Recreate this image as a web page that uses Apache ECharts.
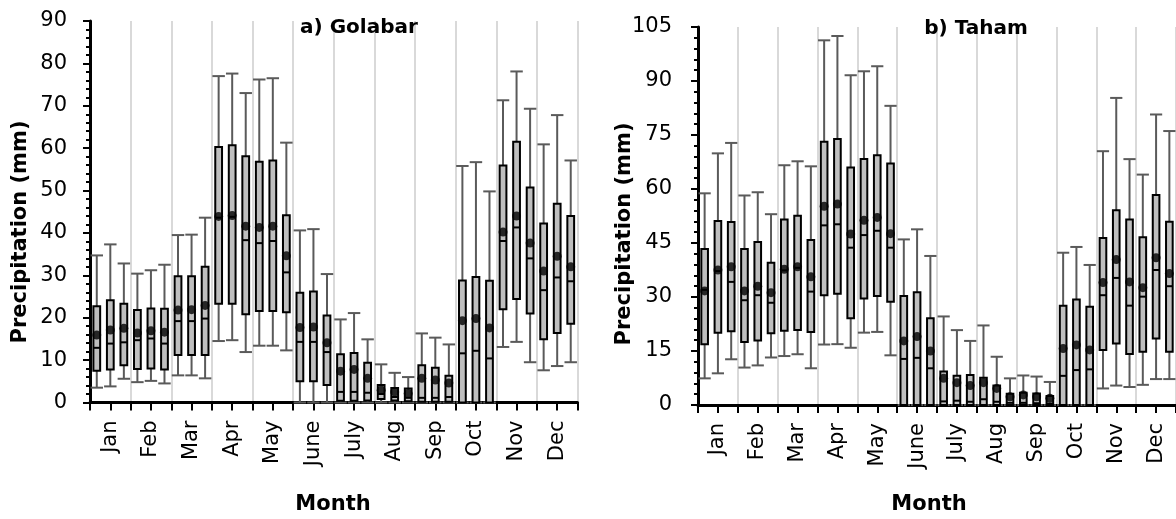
<!DOCTYPE html>
<html>
<head>
<meta charset="utf-8">
<script src="https://cdn.jsdelivr.net/npm/echarts@6/dist/echarts.min.js"></script>
<style>
html,body{margin:0;padding:0;background:#fff;}
#c{width:1176px;height:519px;}
</style>
</head>
<body>
<div id="c"></div>
<script>
// ---- Data ----
var months = ['Jan','Feb','Mar','Apr','May','June','July','Aug','Sep','Oct','Nov','Dec'];
var yTicksA = {min: 0, max: 90, interval: 10};
var yTicksB = {min: 0, max: 105, interval: 15};

// a) Golabar (3 boxes per month)
var aMax  = [34.7,37.3,32.8, 30.4,31.2,32.5, 39.5,39.6,43.6, 77.0,77.6,73.0, 76.2,76.5,61.3, 40.6,40.9,30.3, 19.6,21.1,14.9, 9.0,7.0,6.0, 16.3,15.3,13.7, 55.8,56.7,49.8, 71.3,78.1,69.3, 60.9,67.8,57.1];
var aQ3   = [22.7,24.1,23.3, 21.8,22.2,22.1, 29.8,29.8,32.0, 60.3,60.7,58.1, 56.8,57.1,44.2, 25.9,26.2,20.5, 11.4,11.7,9.4, 4.1,3.4,3.3, 8.8,8.2,6.3, 28.8,29.6,28.7, 55.9,61.5,50.7, 42.2,46.9,44.0];
var aMed  = [12.9,13.9,14.2, 14.7,15.1,13.9, 19.2,19.2,19.8, 43.6,43.8,38.3, 37.6,38.1,30.7, 14.3,14.3,11.9, 2.5,2.5,2.3, 2.0,1.3,1.1, 1.1,1.1,1.3, 11.6,12.2,10.4, 38.1,41.3,34.0, 26.5,29.5,28.6];
var aQ1   = [7.5,7.8,8.8, 7.9,8.0,7.8, 11.2,11.2,11.2, 23.3,23.3,20.8, 21.6,21.6,21.3, 5.0,5.0,4.1, 0.4,0.4,0.5, 0.8,0.5,0.3, 0.2,0.2,0.2, 0,0,0, 22.0,24.4,21.0, 14.9,16.4,18.6];
var aMin  = [3.5,3.8,5.6, 4.8,5.1,4.5, 6.4,6.4,5.7, 14.5,14.7,11.9, 13.4,13.4,12.3, 0,0,0, 0,0,0, 0,0,0, 0,0,0, 0,0,0, 13.1,14.3,9.5, 7.6,8.6,9.5];
var aMean = [15.9,17.1,17.5, 16.4,16.9,16.6, 21.8,21.9,22.9, 43.9,44.1,41.6, 41.3,41.6,34.6, 17.7,17.8,14.1, 7.4,7.8,5.7, 2.9,2.5,2.1, 5.7,5.3,4.6, 19.3,19.8,17.6, 40.2,44.0,37.6, 31.0,34.5,32.0];

// b) Taham
var bMax  = [58.8,69.9,72.8, 58.2,59.1,53.0, 66.6,67.7,66.3, 101.3,102.5,91.6, 92.7,94.1,83.1, 46.0,48.8,41.4, 24.6,20.8,17.8, 22.1,13.4,7.4, 8.2,7.9,6.4, 42.3,43.9,38.9, 70.5,85.3,68.3, 64.0,80.7,76.1];
var bQ3   = [43.3,51.1,50.8, 43.3,45.3,39.5, 51.5,52.6,45.8, 73.1,73.9,66.0, 68.3,69.4,67.1, 30.3,31.3,24.1, 9.3,8.1,8.3, 7.6,5.4,3.1, 3.4,3.2,2.5, 27.6,29.3,27.3, 46.4,54.1,51.5, 46.6,58.3,50.9];
var bMed  = [32.0,37.2,34.2, 29.1,30.5,28.4, 37.4,38.1,31.5, 49.9,50.2,43.7, 47.2,48.4,43.7, 12.8,13.1,10.2, 1.0,1.2,0.9, 1.6,0.9,0.6, 0.6,0.5,0.4, 8.1,9.7,9.9, 30.5,35.3,27.6, 30.1,37.5,33.0];
var bQ1   = [16.9,20.1,20.5, 17.5,17.9,19.9, 20.6,20.8,20.3, 30.5,30.9,24.1, 29.6,30.3,28.7, 0,0,0, 0,0,0, 0,0,0, 0,0,0, 0,0,0, 15.3,17.1,14.2, 14.8,18.5,14.8];
var bMin  = [7.4,8.8,12.7, 10.4,11.0,13.2, 13.6,14.1,10.2, 16.8,16.9,15.9, 20.1,20.3,13.8, 0,0,0, 0,0,0, 0,0,0, 0,0,0, 0,0,0, 4.6,5.4,5.0, 5.6,7.2,7.2];
var bMean = [31.7,37.5,38.4, 31.7,33.0,31.2, 37.7,38.4,35.6, 55.2,55.8,47.5, 51.3,52.1,47.6, 17.8,19.0,15.0, 7.4,6.2,5.4, 6.2,4.6,2.3, 2.8,2.3,1.9, 15.7,16.7,15.3, 34.0,40.4,34.2, 32.6,40.9,36.5];

// ---- Build ----
var FONT = 'DejaVu Sans';
var nBox = months.length * 3;

function boxData(mn, q1, md, q3, mx) {
  return mn.map(function (v, i) { return [i + 0.5, v, q1[i], md[i], q3[i], mx[i]]; });
}
function meanData(m) {
  return m.map(function (v, i) { return [i + 0.5, v]; });
}

function renderBox(params, api) {
  var x = api.value(0);
  var lo = api.coord([x, api.value(1)]);
  var q1 = api.coord([x, api.value(2)]);
  var md = api.coord([x, api.value(3)]);
  var q3 = api.coord([x, api.value(4)]);
  var hi = api.coord([x, api.value(5)]);
  var slot = api.size([1, 0])[0];
  var bw = slot * 0.5, cw = slot * 0.92;
  var cx = lo[0];
  var ws = {stroke: '#5a5a5a', lineWidth: 2};
  return {
    type: 'group',
    children: [
      {type: 'line', shape: {x1: cx, y1: hi[1], x2: cx, y2: lo[1]}, style: ws},
      {type: 'line', shape: {x1: cx - cw / 2, y1: hi[1], x2: cx + cw / 2, y2: hi[1]}, style: ws},
      {type: 'line', shape: {x1: cx - cw / 2, y1: lo[1], x2: cx + cw / 2, y2: lo[1]}, style: ws},
      {type: 'rect', shape: {x: cx - bw / 2, y: q3[1], width: bw, height: q1[1] - q3[1]},
        style: {fill: '#bfbfbf', stroke: '#000', lineWidth: 2}},
      {type: 'line', shape: {x1: cx - bw / 2, y1: md[1], x2: cx + bw / 2, y2: md[1]},
        style: {stroke: '#000', lineWidth: 2}}
    ]
  };
}

function mainX(gridIndex) {
  return {
    type: 'value', gridIndex: gridIndex, min: 0, max: nBox, interval: 1.5,
    axisLine: {show: true, onZero: false, lineStyle: {color: '#000', width: 3}},
    axisTick: {show: true, length: 8, lineStyle: {color: '#000', width: 2}},
    splitLine: {show: false},
    axisLabel: {
      rotate: 90, margin: 18, color: '#000', fontSize: 21, fontFamily: FONT,
      formatter: function (v) {
        var k = Math.round(v / 1.5);
        return (k % 2 === 1) ? months[(k - 1) / 2] : '';
      }
    }
  };
}
function splitX(gridIndex) {
  return {
    type: 'value', gridIndex: gridIndex, min: 0, max: nBox, interval: 3,
    position: 'bottom',
    axisLine: {show: false}, axisTick: {show: false}, axisLabel: {show: false},
    splitLine: {show: true, lineStyle: {color: '#d9d9d9', width: 2}}
  };
}
function yAx(gridIndex, t, margin) {
  return {
    type: 'value', gridIndex: gridIndex, min: t.min, max: t.max, interval: t.interval,
    axisLine: {show: true, lineStyle: {color: '#000', width: 3}},
    axisTick: {show: true, length: 7, lineStyle: {color: '#000', width: 2}},
    minorTick: {show: true, splitNumber: 5, length: 4, lineStyle: {color: '#000', width: 2}},
    splitLine: {show: false},
    axisLabel: {margin: margin, color: '#000', fontSize: 21, fontFamily: FONT}
  };
}

function txt(x, y, s, size, rot) {
  return {
    type: 'text', x: x, y: y, rotation: rot || 0, z: 100,
    style: {text: s, fill: '#000', font: 'bold ' + size + 'px "' + FONT + '"',
      align: 'center', verticalAlign: 'middle', textAlign: 'center', textVerticalAlign: 'middle'}
  };
}
function ttl(x, y, s) {
  return {
    text: s, left: x, top: y, textAlign: 'center', padding: 0, z: 100,
    textStyle: {color: '#000', fontSize: 20, fontWeight: 'bold', fontFamily: FONT}
  };
}

var chart = echarts.init(document.getElementById('c'), null, {renderer: 'canvas'});
chart.setOption({
  animation: false,
  backgroundColor: '#fff',
  title: [ttl(359, 18, 'a) Golabar'), ttl(976, 19, 'b) Taham')],
  grid: [
    {left: 90, top: 21, width: 487.5, height: 381.5},
    {left: 698, top: 27, width: 481, height: 378}
  ],
  xAxis: [mainX(0), splitX(0), mainX(1), splitX(1)],
  yAxis: [yAx(0, yTicksA, 23), yAx(1, yTicksB, 26)],
  graphic: [
    txt(333, 505, 'Month', 21),
    txt(929, 505, 'Month', 21),
    txt(21, 232, 'Precipitation (mm)', 21, Math.PI / 2),
    txt(625, 234, 'Precipitation (mm)', 21, Math.PI / 2)
  ],
  series: [
    {type: 'custom', name: 'Golabar', xAxisIndex: 0, yAxisIndex: 0, renderItem: renderBox,
      encode: {x: 0, y: [1, 2, 3, 4, 5]}, data: boxData(aMin, aQ1, aMed, aQ3, aMax), z: 3},
    {type: 'scatter', name: 'Golabar mean', xAxisIndex: 0, yAxisIndex: 0, symbol: 'circle', symbolSize: 9,
      itemStyle: {color: '#000'}, data: meanData(aMean), z: 4},
    {type: 'custom', name: 'Taham', xAxisIndex: 2, yAxisIndex: 1, renderItem: renderBox,
      encode: {x: 0, y: [1, 2, 3, 4, 5]}, data: boxData(bMin, bQ1, bMed, bQ3, bMax), z: 3},
    {type: 'scatter', name: 'Taham mean', xAxisIndex: 2, yAxisIndex: 1, symbol: 'circle', symbolSize: 9,
      itemStyle: {color: '#000'}, data: meanData(bMean), z: 4}
  ]
});
</script>
</body>
</html>
